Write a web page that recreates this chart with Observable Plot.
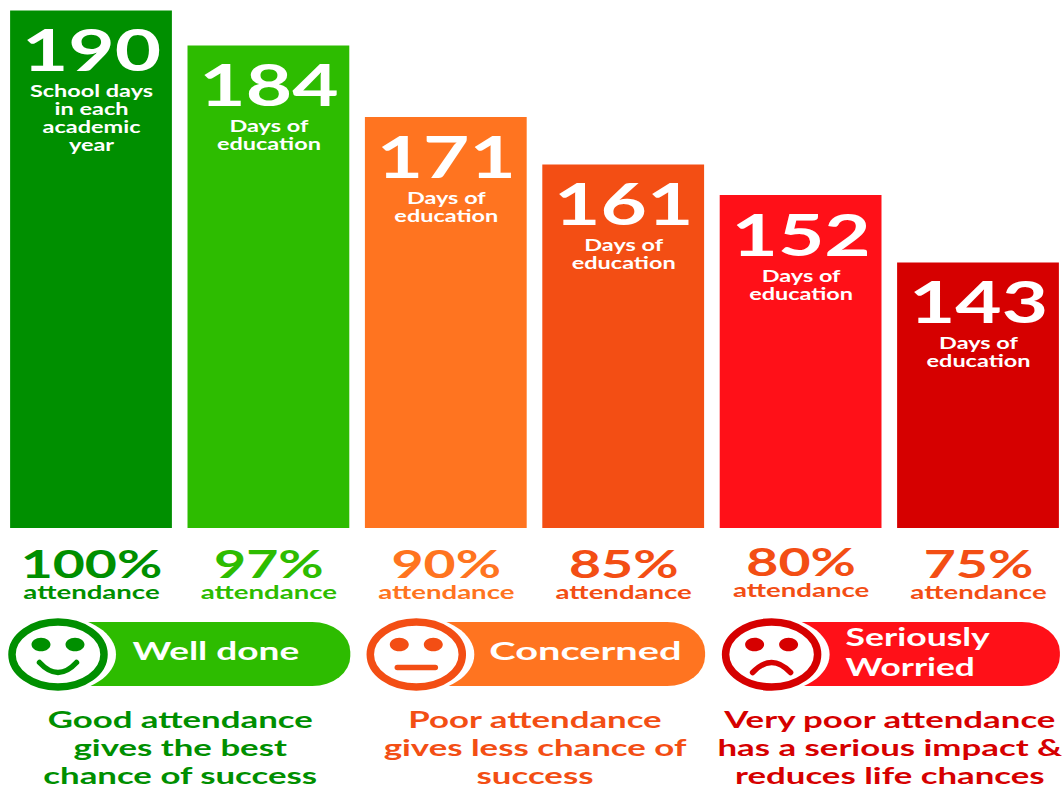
<!DOCTYPE html>
<html><head><meta charset="utf-8">
<script src="https://cdn.jsdelivr.net/npm/d3@7"></script>
<script src="https://cdn.jsdelivr.net/npm/@observablehq/plot@0.6"></script>
<style>html,body{margin:0;padding:0;background:#fff;overflow:hidden}</style>
</head><body><div id="chart"></div>
<script>
const days = [190, 184, 171, 161, 152, 143];
const attendance = ["100%", "97%", "90%", "85%", "80%", "75%"];
const barColors = ["#008f00", "#2dbc00", "#ff7420", "#f34e14", "#ff1018", "#d60000"];
const pctColors = ["#008f00", "#2dbc00", "#ff7420", "#f34e14", "#f34e14", "#f34e14"];
const barNotes = [
  ["School days", "in each", "academic", "year"],
  ["Days of", "education"], ["Days of", "education"],
  ["Days of", "education"], ["Days of", "education"], ["Days of", "education"]
];
const groupFirst = [0, 2, 4];
const groupLast = [1, 3, 5];
const groupLabels = [["Well done"], ["Concerned"], ["Seriously", "Worried"]];
const groupDark = ["#008f00", "#f34e14", "#d60000"];
const groupPill = ["#2dbc00", "#ff7420", "#ff1018"];
const captions = [
  ["Good attendance", "gives the best", "chance of success"],
  ["Poor attendance", "gives less chance of", "success"],
  ["Very poor attendance", "has a serious impact &", "reduces life chances"]
];
const captionColors = ["#008f00", "#f34e14", "#d60000"];

const FONT = "Lato, sans-serif";
const half = 0.456;
const faceDx = [-33.5, -30, -29.5];
const faceY = 654;
// The reference's type is stretched sideways along with the rest of the picture.
const stretchBySize = {58: 1.38, 17: 1.38, 39: 1.42, 18.5: 1.49, 23.5: 1.48};
const stretchByLabel = {"Well done": 1.48, "Concerned": 1.59, "Seriously": 1.42, "Worried": 1.41};

const ellipse = (rx, ry, cx = 0, cy = 0) => ({
  draw(c) {
    const k = 0.5523;
    c.moveTo(cx + rx, cy);
    c.bezierCurveTo(cx + rx, cy + k*ry, cx + k*rx, cy + ry, cx, cy + ry);
    c.bezierCurveTo(cx - k*rx, cy + ry, cx - rx, cy + k*ry, cx - rx, cy);
    c.bezierCurveTo(cx - rx, cy - k*ry, cx - k*rx, cy - ry, cx, cy - ry);
    c.bezierCurveTo(cx + k*rx, cy - ry, cx + rx, cy - k*ry, cx + rx, cy);
    c.closePath();
  }
});
const eyes = {draw(c) {
  for (const cx of [-17, 17]) ellipse(9.5, 6.8, cx, -10).draw(c);
}};
const mouths = [
  {draw(c) { c.moveTo(-18.5, 8); c.quadraticCurveTo(0, 28, 18.5, 8); }},
  {draw(c) { c.moveTo(-19, 13); c.lineTo(19, 13); }},
  {draw(c) { c.moveTo(-19, 18); c.quadraticCurveTo(0, -2, 19, 18); }}
];

const marks = [];
// bars
marks.push(Plot.rect(days, {
  x1: (d, i) => i - half, x2: (d, i) => i + half,
  y1: () => 0, y2: d => d,
  fill: (d, i) => barColors[i]
}));
// big numbers on bars
marks.push(Plot.text(days, {
  x: (d, i) => i, y: d => d, dy: 41.5, text: d => String(d),
  fill: "white", fontFamily: FONT, fontWeight: 700, fontSize: 58
}));
// notes on bars, one mark per text line
for (let line = 0; line < 4; line++) {
  const rows = days.map((d, i) => ({i, d, t: barNotes[i][line]})).filter(r => r.t);
  marks.push(Plot.text(rows, {
    x: r => r.i, y: r => r.d, dy: 81 + 17.7 * line, text: r => r.t,
    fill: "white", fontFamily: FONT, fontWeight: 700, fontSize: 17
  }));
}
// attendance figures
for (const [keep, shift] of [[i => i !== 4, 0], [i => i === 4, -2]]) {
  const rows = attendance.map((t, i) => ({t, i})).filter(r => keep(r.i));
  marks.push(Plot.text(rows, {
    x: r => r.i, frameAnchor: "top", lineAnchor: "middle", dy: 565 + shift, text: r => r.t,
    fill: r => pctColors[r.i], fontFamily: FONT, fontWeight: 700, fontSize: 39
  }));
  marks.push(Plot.text(rows, {
    x: r => r.i, frameAnchor: "top", lineAnchor: "middle", dy: 592.5 + shift, text: () => "attendance",
    fill: r => pctColors[r.i], fontFamily: FONT, fontWeight: 700, fontSize: 18.5
  }));
}
// pills (their left ends sit behind the faces)
marks.push(Plot.rect(groupFirst, {
  x1: d => d - 0.25, x2: (d, i) => groupLast[i] + half,
  insetTop: 622, insetBottom: 786 - 686, insetRight: -1,
  rx: 38, ry: 30,
  fill: (d, i) => groupPill[i]
}));
// faces
groupFirst.forEach((col, g) => {
  const at = {x: () => col, frameAnchor: "top", dy: faceY, dx: faceDx[g], r: 10};
  marks.push(Plot.dot([col], {...at, symbol: ellipse(58, 38), fill: "white", stroke: "none"}));
  marks.push(Plot.dot([col], {...at, symbol: ellipse(46, 32.5), fill: "white", stroke: groupDark[g], strokeWidth: 7.5}));
  marks.push(Plot.dot([col], {...at, symbol: eyes, fill: groupDark[g], stroke: "none"}));
  marks.push(Plot.dot([col], {...at, symbol: mouths[g], fill: "none", stroke: groupDark[g], strokeWidth: 5.5, strokeLinecap: "round"}));
});
// pill labels
groupFirst.forEach((col, g) => {
  const lines = groupLabels[g];
  lines.forEach((t, l) => {
    marks.push(Plot.text([t], {
      x: () => col, frameAnchor: "top", lineAnchor: "middle",
      dy: lines.length > 1 ? 637.5 + 29.5 * l : 651,
      dx: [41, 43, 44.5][g], textAnchor: "start", text: d => d,
      fill: "white", fontFamily: FONT, fontWeight: 700, fontSize: 25
    }));
  });
});
// captions
captions.forEach((lines, g) => {
  lines.forEach((t, l) => {
    marks.push(Plot.text([t], {
      x: () => (groupFirst[g] + groupLast[g]) / 2, frameAnchor: "top", lineAnchor: "middle",
      dy: 720 + 28 * l, text: d => d,
      fill: captionColors[g], fontFamily: FONT, fontWeight: 700, fontSize: 23.5
    }));
  });
});

const chart = Plot.plot({
  width: 1062, height: 786,
  marginTop: 0, marginRight: 0, marginBottom: 0, marginLeft: 0,
  x: {type: "linear", domain: [-91 / 177.4, 971 / 177.4], range: [0, 1062], axis: null},
  y: {type: "linear", domain: [0, 143, 152, 161, 171, 184, 190], range: [528, 262.5, 195, 164.5, 117, 45.5, 10.5], axis: null},
  style: {background: "white"},
  marks
});
document.getElementById("chart").appendChild(chart);
d3.select(chart).selectAll("text").each(function () {
  const size = parseFloat(getComputedStyle(this).fontSize);
  const k = stretchByLabel[this.textContent] ?? stretchBySize[size] ?? 1.34;
  this.setAttribute("textLength", this.getComputedTextLength() * k);
  this.setAttribute("lengthAdjust", "spacingAndGlyphs");
});
</script></body></html>
